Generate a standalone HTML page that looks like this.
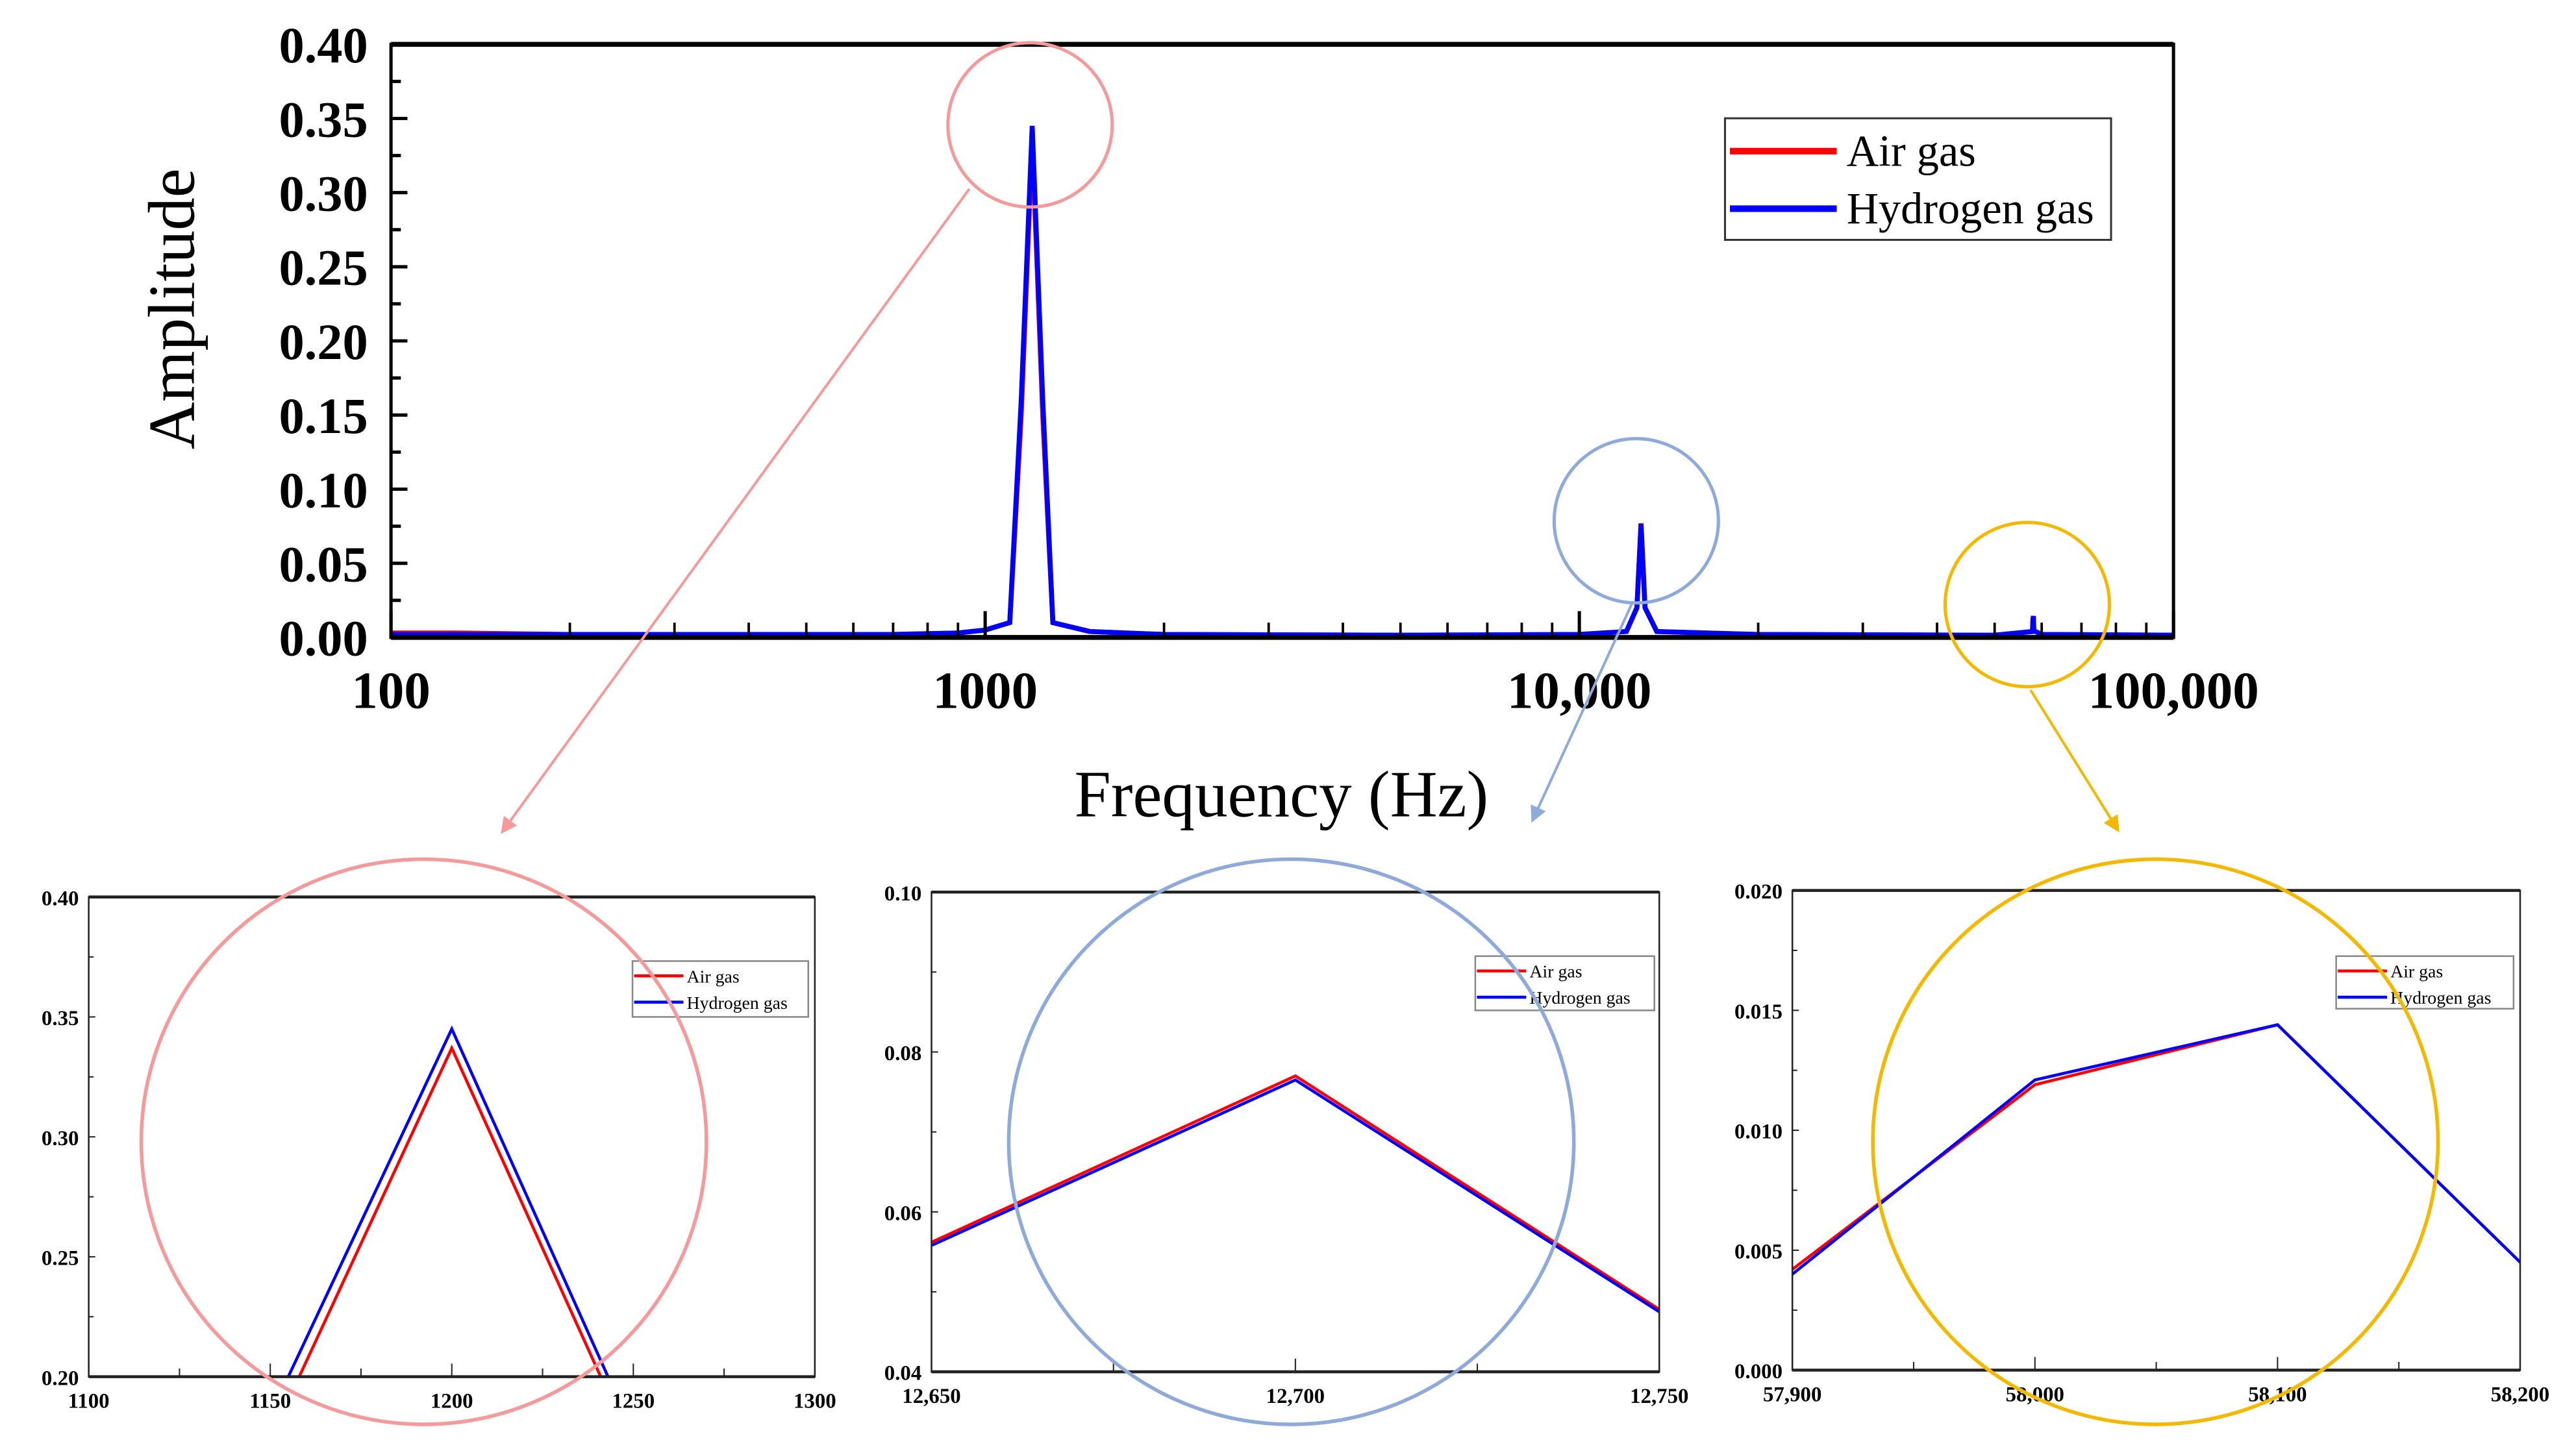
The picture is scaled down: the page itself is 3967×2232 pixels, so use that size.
<!DOCTYPE html>
<html><head><meta charset="utf-8"><style>
html,body{margin:0;padding:0;background:#fff;overflow:hidden;width:3967px;height:2232px;}
svg{display:block;font-family:"Liberation Serif",serif;}
</style></head><body>
<svg id="fig" width="3967" height="2232" viewBox="0 0 1568 882" preserveAspectRatio="none" xmlns="http://www.w3.org/2000/svg">
<g id="main"></g>
<g id="ins1"></g>
<g id="ins2"></g>
<g id="ins3"></g>
<g id="ann"></g>
</svg>
<script>
// main chart data
const mainFreq = [100,130,200,400,700,900,1000,1100,1150,1200,1250,1300,1500,2000,5000,10000,12000,12500,12700,12900,13500,20000,50000,57900,58000,58100,58200,60000,100000];
const mainAir  = [0.003,0.003,0.002,0.002,0.002,0.003,0.005,0.010,0.15,0.337,0.15,0.010,0.004,0.002,0.0015,0.002,0.004,0.02,0.077,0.02,0.004,0.002,0.0015,0.004,0.012,0.0144,0.0045,0.002,0.0015];
const mainH2   = [0.002,0.002,0.002,0.002,0.002,0.003,0.005,0.010,0.16,0.345,0.16,0.010,0.004,0.002,0.0015,0.002,0.004,0.02,0.0765,0.02,0.004,0.002,0.0015,0.004,0.0121,0.0144,0.0045,0.002,0.0015];
const mainYTicks = [0,0.05,0.10,0.15,0.20,0.25,0.30,0.35,0.40];
const mainXTicks = [100,1000,10000,100000];
const mainXLabels = ["100","1000","10,000","100,000"];
// insets
const i1x=[1100,1200,1300], i1Air=[0.011,0.337,0.003], i1H2=[0.023,0.345,0.008];
const i1XTicks=[1100,1150,1200,1250,1300], i1YTicks=[0.20,0.25,0.30,0.35,0.40];
const i1XLabels=["1100","1150","1200","1250","1300"], i1YLabels=["0.20","0.25","0.30","0.35","0.40"];
const i2x=[12650,12700,12750], i2Air=[0.0562,0.0770,0.0478], i2H2=[0.0558,0.0765,0.0475];
const i2XTicks=[12650,12700,12750], i2YTicks=[0.04,0.06,0.08,0.10];
const i2XLabels=["12,650","12,700","12,750"], i2YLabels=["0.04","0.06","0.08","0.10"];
const i3x=[57900,58000,58100,58200], i3Air=[0.0042,0.0119,0.0144,0.0045], i3H2=[0.0040,0.0121,0.0144,0.0045];
const i3XTicks=[57900,58000,58100,58200], i3YTicks=[0,0.005,0.010,0.015,0.020];
const i3XLabels=["57,900","58,000","58,100","58,200"], i3YLabels=["0.000","0.005","0.010","0.015","0.020"];

const NS="http://www.w3.org/2000/svg";
function mk(parent,tag,attrs,text){const e=document.createElementNS(NS,tag);for(const k in attrs)e.setAttribute(k,attrs[k]);if(text!==undefined)e.textContent=text;parent.appendChild(e);return e;}

// MAIN
(function(){
const g=document.getElementById('main');
const L=238,R=1323,T=27,B=388;
const sx=f=>L+(Math.log10(f)-2)/3*(R-L);
const sy=v=>B-v/0.4*(B-T);
let cp=mk(g,'clipPath',{id:'mclip'});mk(cp,'rect',{x:L,y:T,width:R-L,height:B-T});
const pts=(ys)=>mainFreq.map((f,i)=>sx(f).toFixed(2)+','+sy(ys[i]).toFixed(2)).join(' ');
let a=mk(g,'polyline',{points:pts(mainAir),fill:'none',stroke:'#ff0000','stroke-width':3,'clip-path':'url(#mclip)'});


let h=mk(g,'polyline',{points:pts(mainH2),fill:'none',stroke:'#0000ff','stroke-width':3,'clip-path':'url(#mclip)'});


let fr=mk(g,'rect',{x:L,y:T,width:R-L,height:B-T,fill:'none',stroke:'#000','stroke-width':2});


mk(g,'line',{x1:L,y1:B,x2:R,y2:B,stroke:'#000','stroke-width':3});
mk(g,'line',{x1:L,y1:T,x2:R,y2:T,stroke:'#000','stroke-width':3});
mainYTicks.forEach((v,i)=>{
 mk(g,'line',{x1:L,y1:sy(v),x2:L+10,y2:sy(v),stroke:'#000','stroke-width':2});
 if(i<mainYTicks.length-1) mk(g,'line',{x1:L,y1:sy(v+0.025),x2:L+6,y2:sy(v+0.025),stroke:'#000','stroke-width':2});
 let t=mk(g,'text',{x:224,y:sy(v)+11,'text-anchor':'end','font-size':31,'font-weight':'bold'},v.toFixed(2));
 
 
});
for(let d=100;d<100000;d*=10){for(let m=2;m<10;m++){const x=sx(d*m);mk(g,'line',{x1:x,y1:B,x2:x,y2:B-9,stroke:'#000','stroke-width':1.5});}}
mainXTicks.forEach((f,i)=>{
 mk(g,'line',{x1:sx(f),y1:B,x2:sx(f),y2:B-16,stroke:'#000','stroke-width':2});
 let t=mk(g,'text',{x:sx(f),y:431,'text-anchor':'middle','font-size':32,'font-weight':'bold'},mainXLabels[i]);
 
 
});
let yt=mk(g,'text',{x:0,y:0,transform:'translate(118,188) rotate(-90)','text-anchor':'middle','font-size':40},'Amplitude');


let xt=mk(g,'text',{x:780,y:497,'text-anchor':'middle','font-size':40},'Frequency (Hz)');


let lg=mk(g,'g',{});


mk(lg,'rect',{x:1050,y:72,width:235,height:74,fill:'#fff',stroke:'#333','stroke-width':1.2});
mk(lg,'line',{x1:1053,y1:92,x2:1118,y2:92,stroke:'#ff0000','stroke-width':4});
mk(lg,'line',{x1:1053,y1:127,x2:1118,y2:127,stroke:'#0000ff','stroke-width':4});
mk(lg,'text',{x:1124,y:101,'font-size':27},'Air gas');
mk(lg,'text',{x:1124,y:136,'font-size':27},'Hydrogen gas');
})();

function inset(id,box,xs,air,h2,xmin,xmax,ymin,ymax,xt,xl,yt,yl,leg){
 const g=document.getElementById(id);
 const [L,T,R,B]=box;
 const sx=v=>L+(v-xmin)/(xmax-xmin)*(R-L);
 const sy=v=>B-(v-ymin)/(ymax-ymin)*(B-T);
 let cp=mk(g,'clipPath',{id:id+'c'});mk(cp,'rect',{x:L,y:T,width:R-L,height:B-T});
 const p=ys=>xs.map((x,i)=>sx(x).toFixed(2)+','+sy(ys[i]).toFixed(2)).join(' ');
 let a=mk(g,'polyline',{points:p(air),fill:'none',stroke:'#ff0000','stroke-width':1.8,'clip-path':'url(#'+id+'c)'});
 
 
 let h=mk(g,'polyline',{points:p(h2),fill:'none',stroke:'#0000ff','stroke-width':1.8,'clip-path':'url(#'+id+'c)'});
 
 
 mk(g,'rect',{x:L,y:T,width:R-L,height:B-T,fill:'none',stroke:'#222','stroke-width':1});
 mk(g,'line',{x1:L,y1:B,x2:R,y2:B,stroke:'#222','stroke-width':1.8});
 mk(g,'line',{x1:L,y1:T,x2:R,y2:T,stroke:'#222','stroke-width':1.8});
 xt.forEach((v,i)=>{
  mk(g,'line',{x1:sx(v),y1:B,x2:sx(v),y2:B-8,stroke:'#222','stroke-width':0.8});
  if(i<xt.length-1){const m=(v+xt[i+1])/2;mk(g,'line',{x1:sx(m),y1:B,x2:sx(m),y2:B-5,stroke:'#222','stroke-width':0.8});}
  let t=mk(g,'text',{x:sx(v),y:B+19,'text-anchor':'middle','font-size':13,'font-weight':'bold'},xl[i]);
  
  
 });
 yt.forEach((v,i)=>{
  mk(g,'line',{x1:L,y1:sy(v),x2:L+4,y2:sy(v),stroke:'#222','stroke-width':0.8});
  if(i<yt.length-1){const m=(v+yt[i+1])/2;mk(g,'line',{x1:L,y1:sy(m),x2:L+3,y2:sy(m),stroke:'#222','stroke-width':0.8});}
  let t=mk(g,'text',{x:L-6,y:sy(v)+5,'text-anchor':'end','font-size':13,'font-weight':'bold'},yl[i]);
  
  
 });
 let lg=mk(g,'g',{});
 
 
 const [lx,ly,lw,lh]=leg;
 mk(lg,'rect',{x:lx,y:ly,width:lw,height:lh,fill:'#fff',stroke:'#888','stroke-width':1});
 mk(lg,'line',{x1:lx+1,y1:ly+9,x2:lx+31,y2:ly+9,stroke:'#ff0000','stroke-width':1.8});
 mk(lg,'line',{x1:lx+1,y1:ly+25,x2:lx+31,y2:ly+25,stroke:'#0000ff','stroke-width':1.8});
 mk(lg,'text',{x:lx+33,y:ly+13,'font-size':11},'Air gas');
 mk(lg,'text',{x:lx+33,y:ly+29,'font-size':11},'Hydrogen gas');
}
inset('ins1',[54,546,496,838],i1x,i1Air,i1H2,1100,1300,0.20,0.40,i1XTicks,i1XLabels,i1YTicks,i1YLabels,[385,585,107,34]);
inset('ins2',[567,543,1010,835],i2x,i2Air,i2H2,12650,12750,0.04,0.10,i2XTicks,i2XLabels,i2YTicks,i2YLabels,[898,582,109,33]);
inset('ins3',[1091,542,1534,834],i3x,i3Air,i3H2,57900,58200,0,0.020,i3XTicks,i3XLabels,i3YTicks,i3YLabels,[1422,582,108,32]);

(function(){
const g=document.getElementById('ann');
const defs=mk(g,'defs',{});
[['ap','#f59a9a'],['ab','#8eaadb'],['ay','#f5b800']].forEach(([id,c])=>{
 const m=mk(defs,'marker',{id:id,markerWidth:10,markerHeight:10,refX:8,refY:5,orient:'auto',markerUnits:'userSpaceOnUse'});
 mk(m,'path',{d:'M0,0 L10,5 L0,10 z',fill:c});
});
const items=[
 ['pink','#f59a9a','ap',627,76,50,590,115,306,506,258,695],
 ['blue','#8eaadb','ab',996,317,50,994,366,933,499,786,695],
 ['yellow','#f5b800','ay',1234,368,50,1236,420,1289,505,1312,695]];
items.forEach(([n,c,m,cx,cy,r,x1,y1,x2,y2,bx,by])=>{
 let s=mk(g,'circle',{cx:cx,cy:cy,r:r,fill:'none',stroke:c,'stroke-width':2});
 
 
 let l=mk(g,'line',{x1:x1,y1:y1,x2:x2,y2:y2,stroke:c,'stroke-width':1.6,'marker-end':'url(#'+m+')'});
 
 
 let b=mk(g,'circle',{cx:bx,cy:by,r:172,fill:'none',stroke:c,'stroke-width':2.2});
 
 
});
})();
</script>
</body></html>
